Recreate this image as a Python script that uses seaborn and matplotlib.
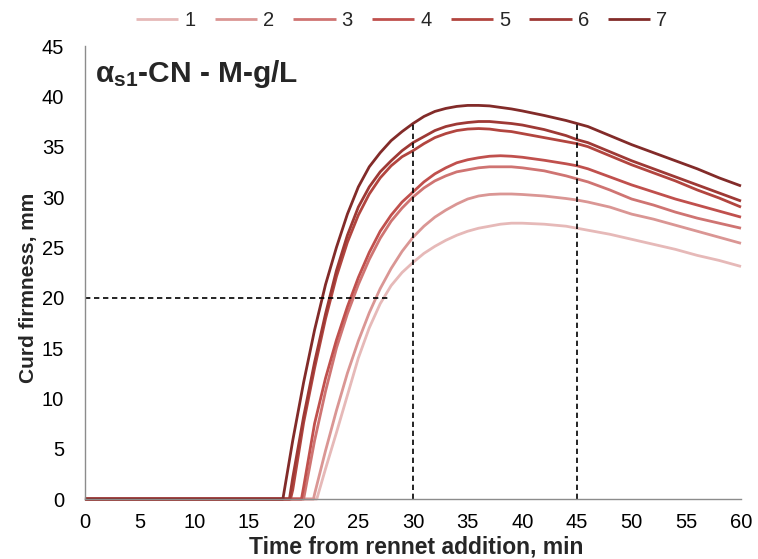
import matplotlib
matplotlib.use("Agg")
import matplotlib.pyplot as plt
import pandas as pd
import seaborn as sns

# Time grid (min) on which the firmness curves are tabulated
GRID_MIN = [19, 20, 21, 22, 23, 24, 25, 26, 27, 28, 29, 30, 31, 32, 33, 34, 35,
            36, 37, 38, 39, 40, 42, 44, 45, 46, 48, 50, 52, 54, 56, 58, 60]

CURVE_LABELS = ["1", "2", "3", "4", "5", "6", "7"]

# Rennet coagulation time of each curve (min): firmness is zero before it
CLOT_ONSET = [21.2, 20.9, 20.0, 19.8, 18.8, 18.7, 18.1]

# Curd firmness (mm) at each GRID_MIN time
FIRMNESS_1 = [0, 0, 0, 3.0, 6.6, 10.3, 14.0, 17.0, 19.4, 21.2, 22.5, 23.5, 24.4,
              25.1, 25.7, 26.2, 26.6, 26.9, 27.1, 27.3, 27.4, 27.4, 27.3, 27.1,
              26.9, 26.7, 26.3, 25.8, 25.3, 24.8, 24.2, 23.7, 23.1]
FIRMNESS_2 = [0, 0, 0.5, 4.8, 8.8, 12.5, 15.7, 18.5, 20.9, 22.9, 24.6, 26.0, 27.1,
              28.0, 28.7, 29.3, 29.8, 30.1, 30.25, 30.3, 30.3, 30.25, 30.1, 29.85,
              29.7, 29.5, 29.0, 28.3, 27.8, 27.2, 26.6, 26.0, 25.4]
FIRMNESS_3 = [0, 0, 5.8, 10.7, 15.0, 18.4, 21.3, 23.8, 25.9, 27.6, 28.9, 30.0, 30.9,
              31.6, 32.1, 32.5, 32.7, 32.9, 33.0, 33.0, 33.0, 32.9, 32.6, 32.1,
              31.8, 31.5, 30.7, 29.8, 29.2, 28.5, 27.9, 27.4, 26.9]
FIRMNESS_4 = [0, 1.2, 7.5, 12.0, 15.8, 19.1, 22.0, 24.5, 26.6, 28.2, 29.5, 30.5, 31.5,
              32.3, 32.9, 33.4, 33.7, 33.9, 34.05, 34.1, 34.05, 33.95, 33.65, 33.3,
              33.1, 32.8, 32.0, 31.2, 30.5, 29.8, 29.2, 28.6, 28.0]
FIRMNESS_5 = [0.9, 7.6, 13.0, 17.9, 22.1, 25.5, 28.2, 30.3, 31.9, 33.1, 34.0, 34.6,
              35.3, 35.9, 36.3, 36.6, 36.75, 36.8, 36.75, 36.6, 36.5, 36.3, 35.9,
              35.5, 35.3, 35.0, 34.1, 33.2, 32.4, 31.6, 30.7, 29.9, 29.0]
FIRMNESS_6 = [2.1, 8.2, 13.6, 18.4, 22.7, 26.2, 29.0, 31.0, 32.5, 33.6, 34.6, 35.4,
              36.0, 36.6, 37.0, 37.25, 37.4, 37.5, 37.5, 37.4, 37.3, 37.15, 36.7,
              36.1, 35.7, 35.4, 34.5, 33.6, 32.8, 32.0, 31.2, 30.4, 29.6]
FIRMNESS_7 = [5.8, 11.6, 16.8, 21.3, 25.0, 28.3, 31.0, 33.0, 34.4, 35.6, 36.5, 37.3,
              38.0, 38.5, 38.8, 39.0, 39.1, 39.1, 39.05, 38.9, 38.75, 38.55, 38.1,
              37.6, 37.3, 37.0, 36.1, 35.2, 34.4, 33.6, 32.8, 31.9, 31.1]

FIRMNESS = [FIRMNESS_1, FIRMNESS_2, FIRMNESS_3, FIRMNESS_4,
            FIRMNESS_5, FIRMNESS_6, FIRMNESS_7]

CURVE_COLORS = ["#E6B9B8", "#DA9694", "#CF7472", "#C0504D",
                "#B2453F", "#9E3935", "#822B29"]

# Reference markers: 20 mm firmness level and the 30 / 45 min readings
REF_FIRMNESS = 20
REF_FIRMNESS_END = 28
CHECK_TIMES = [30, 45]

X_TICKS = list(range(0, 61, 5))
Y_TICKS = list(range(0, 46, 5))

# Long-form table for seaborn
rows = []
for label, onset, values in zip(CURVE_LABELS, CLOT_ONSET, FIRMNESS):
    rows.append((label, 0.0, 0.0))
    rows.append((label, onset, 0.0))
    for t, v in zip(GRID_MIN, values):
        rows.append((label, float(t), v))
df = pd.DataFrame(rows, columns=["curve", "time", "firmness"])
df = df.sort_values(["curve", "time"], kind="stable")

sns.set_style("white")
plt.rcParams["font.family"] = ["Liberation Sans", "DejaVu Sans"]
plt.rcParams["mathtext.fontset"] = "custom"
plt.rcParams["mathtext.rm"] = "Liberation Sans"
plt.rcParams["mathtext.bf"] = "Liberation Sans:bold"
plt.rcParams["mathtext.it"] = "Liberation Sans:italic"

fig, ax = plt.subplots(figsize=(7.58, 5.59), dpi=100)
fig.subplots_adjust(left=0.1121, right=0.9776, bottom=0.1073, top=0.9177)

sns.lineplot(data=df, x="time", y="firmness", hue="curve",
             hue_order=CURVE_LABELS,
             palette=dict(zip(CURVE_LABELS, CURVE_COLORS)),
             estimator=None, sort=False, linewidth=2.0, ax=ax, legend=True)
for line in ax.lines:
    line.set_clip_on(False)
    line.set_solid_capstyle("butt")

# Dashed guide lines
curve7 = dict(zip(GRID_MIN, FIRMNESS_7))
dash = (0, (3.2, 2.2))
ax.plot([0, REF_FIRMNESS_END], [REF_FIRMNESS, REF_FIRMNESS],
        color="black", lw=1.2, ls=dash)
for t in CHECK_TIMES:
    ax.plot([t, t], [0, curve7[t]], color="black", lw=1.2, ls=dash)

ax.set_xlim(0, 60)
ax.set_ylim(0, 45)
ax.set_xticks(X_TICKS)
ax.set_yticks(Y_TICKS)

for side in ["top", "right"]:
    ax.spines[side].set_visible(False)
for side in ["left", "bottom"]:
    ax.spines[side].set_color("#8C8C8C")
    ax.spines[side].set_linewidth(1.0)
ax.tick_params(axis="both", which="major", direction="out", length=5,
               width=1.0, color="#8C8C8C", labelsize=14.5, labelcolor="black")
ax.tick_params(axis="y", pad=10)
ax.tick_params(axis="x", pad=5)

ax.set_xlabel("Time from rennet addition, min", fontsize=16.5,
              fontweight="bold", labelpad=0)
ax.set_ylabel("Curd firmness, mm", fontsize=15, fontweight="bold")
ax.xaxis.set_label_coords(0.505, -0.08)
ax.yaxis.set_label_coords(-0.072, 0.465)

ax.text(0.9, 41.4, r"$\mathbf{\alpha_{s1}}$-CN - M-g/L", fontsize=21.5,
        fontweight="bold", ha="left", va="baseline")

handles, labels = ax.get_legend_handles_labels()
ax.get_legend().remove()
fig.legend(handles, labels, loc="center", bbox_to_anchor=(0.53, 0.963),
           ncol=7, frameon=False, fontsize=14.5, handlelength=2.1,
           handletextpad=0.3, columnspacing=0.95)

fig.savefig("out.png", dpi=100)
